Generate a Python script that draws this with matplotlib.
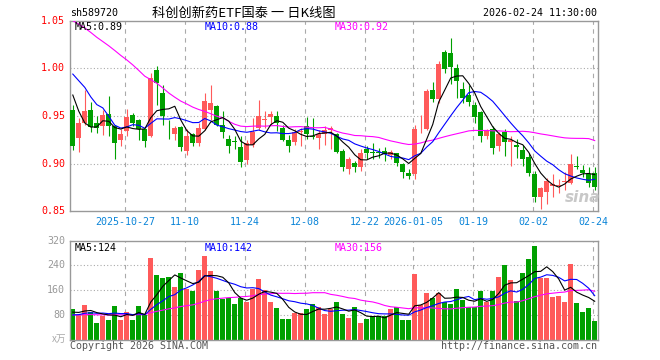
import numpy as np
import pandas as pd
import matplotlib
matplotlib.use('Agg')
import matplotlib.pyplot as plt

# K线数据
opens = [0.9566, 0.9267, 0.9427, 0.9566, 0.9427, 0.939, 0.9524, 0.940, 0.9247, 0.934,
         0.951, 0.946, 0.936, 0.9295, 0.998, 0.974, 0.940, 0.9316, 0.9385, 0.913,
         0.931, 0.922, 0.9365, 0.9566, 0.960, 0.941, 0.926, 0.924, 0.9174, 0.904,
         0.920, 0.9375, 0.946, 0.949, 0.9504, 0.9375, 0.925, 0.9226, 0.933, 0.940,
         0.929, 0.927, 0.9316, 0.935, 0.931, 0.913, 0.894, 0.9003, 0.896, 0.915,
         0.9118, 0.912, 0.913, 0.9087, 0.9115, 0.900, 0.8906, 0.889, 0.937, 0.9365,
         0.9774, 0.9677, 1.0174, 1.0156, 1.000, 0.978, 0.972, 0.962, 0.954, 0.9288,
         0.9368, 0.919, 0.933, 0.9226, 0.920, 0.914, 0.907, 0.889, 0.8646, 0.870,
         0.8767, 0.877, 0.8805, 0.8802, 0.8975, 0.8934, 0.8889, 0.8906]
highs = [0.962, 0.948, 0.977, 0.965, 0.950, 0.956, 0.971, 0.941, 0.936, 0.957,
         0.953, 0.947, 0.936, 0.995, 1.002, 0.983, 0.946, 0.940, 0.939, 0.936,
         0.932, 0.943, 0.974, 0.983, 0.962, 0.955, 0.930, 0.929, 0.929, 0.925,
         0.948, 0.967, 0.955, 0.955, 0.955, 0.941, 0.930, 0.936, 0.937, 0.9486,
         0.948, 0.9358, 0.940, 0.940, 0.932, 0.915, 0.907, 0.903, 0.9156, 0.919,
         0.922, 0.916, 0.917, 0.914, 0.9115, 0.901, 0.894, 0.941, 0.951, 0.978,
         0.986, 1.008, 1.019, 1.032, 1.005, 0.986, 0.9826, 0.965, 0.955, 0.9365,
         0.939, 0.933, 0.936, 0.9295, 0.926, 0.920, 0.9115, 0.8924, 0.875, 0.8854,
         0.889, 0.884, 0.891, 0.9097, 0.908, 0.899, 0.897, 0.896]
lows = [0.914, 0.912, 0.941, 0.933, 0.932, 0.930, 0.929, 0.905, 0.918, 0.929,
        0.940, 0.925, 0.917, 0.928, 0.962, 0.941, 0.926, 0.925, 0.913, 0.909,
        0.918, 0.919, 0.935, 0.946, 0.939, 0.927, 0.911, 0.915, 0.896, 0.8993,
        0.917, 0.935, 0.937, 0.941, 0.934, 0.9236, 0.912, 0.920, 0.918, 0.926,
        0.926, 0.915, 0.920, 0.915, 0.911, 0.8924, 0.889, 0.891, 0.892, 0.905,
        0.905, 0.906, 0.903, 0.905, 0.898, 0.8854, 0.8837, 0.8837, 0.932, 0.935,
        0.965, 0.964, 0.995, 0.984, 0.969, 0.9635, 0.961, 0.943, 0.9226, 0.926,
        0.9097, 0.913, 0.908, 0.8976, 0.906, 0.8976, 0.887, 0.8594, 0.8524, 0.8576,
        0.8646, 0.869, 0.872, 0.8785, 0.8948, 0.886, 0.876, 0.8726]
closes = [0.919, 0.9427, 0.9549, 0.9385, 0.9375, 0.9514, 0.940, 0.922, 0.9306, 0.9486,
          0.943, 0.936, 0.924, 0.9896, 0.985, 0.950, 0.939, 0.9375, 0.9177, 0.9295,
          0.922, 0.9375, 0.966, 0.964, 0.941, 0.933, 0.919, 0.923, 0.9017, 0.922,
          0.933, 0.950, 0.947, 0.9525, 0.9427, 0.925, 0.919, 0.933, 0.934, 0.9316,
          0.928, 0.9316, 0.9358, 0.9375, 0.912, 0.8965, 0.9045, 0.896, 0.9115, 0.911,
          0.9112, 0.9115, 0.9097, 0.912, 0.901, 0.891, 0.8872, 0.9365, 0.9375, 0.9767,
          0.9677, 1.005, 0.999, 1.001, 0.987, 0.969, 0.965, 0.949, 0.9295, 0.934,
          0.916, 0.9306, 0.9226, 0.9247, 0.917, 0.9045, 0.8906, 0.8646, 0.874, 0.882,
          0.8785, 0.8778, 0.881, 0.900, 0.8969, 0.8906, 0.880, 0.875]
# 成交量 (万)
volumes = [100, 80, 113, 90, 55, 78, 64, 110, 64, 91,
           64, 110, 80, 264, 209, 200, 203, 171, 214, 163,
           156, 225, 272, 223, 158, 131, 134, 116, 134, 123,
           165, 197, 161, 123, 103, 68, 68, 86, 86, 100,
           116, 107, 84, 100, 122, 84, 71, 105, 54, 67,
           77, 77, 77, 100, 107, 64, 64, 213, 113, 150,
           134, 150, 123, 116, 165, 129, 105, 107, 156, 123,
           158, 204, 240, 193, 126, 215, 261, 304, 199, 199,
           138, 142, 123, 245, 120, 91, 103, 62]
# 窗口之前的收盘价和成交量 (由左端均线位置估计, 用于均线)
prior_close = [1.06, 1.07, 1.08, 1.09, 1.085, 1.075, 1.07, 1.085, 1.09,
               1.10, 1.11, 1.105, 1.099, 1.10, 1.095, 1.099,
               1.07, 1.04, 1.02, 1.021,
               1.013, 1.0245, 1.0385, 1.018, 0.986, 1.028, 1.016, 0.960, 0.937]
prior_vol = [82, 78, 85, 80, 76, 83, 79, 81, 77, 84, 80, 78, 82, 79, 81, 76, 83, 80, 78, 79,
             70, 68, 74, 72, 71, 84, 90, 82, 89]

tick_idx = [9, 19, 29, 39, 49, 57, 67, 77, 87]
tick_labels = ['2025-10-27', '11-10', '11-24', '12-08', '12-22', '2026-01-05', '01-19', '02-02', '02-24']

UP = '#ff5a5a'
DOWN = '#00a000'
FRAME = '#999999'
MONO = 'DejaVu Sans Mono'
CJK = ['Noto Sans CJK SC', 'DejaVu Sans']

W, H = 660, 360
fig = plt.figure(figsize=(W / 100, H / 100), dpi=100)
fig.patch.set_facecolor('white')


def box(x0, y0, x1, y1):
    # 像素坐标 -> figure 坐标
    return [x0 / W, 1 - y1 / H, (x1 - x0) / W, (y1 - y0) / H]


def px(x, y):
    return x / W, 1 - y / H


ax1 = fig.add_axes(box(70.3, 20.7, 597.5, 211.3))
ax2 = fig.add_axes(box(70.3, 240.7, 597.5, 339.7))

n = len(closes)
x = np.arange(n)
o = np.array(opens)
c = np.array(closes)
up = c >= o
cols = [UP if u else DOWN for u in up]

full_c = pd.Series(prior_close + closes)
full_v = pd.Series(prior_vol + volumes)
k0 = len(prior_close)
ma_c = {m: full_c.rolling(m).mean().iloc[k0:].values for m in (5, 10, 30)}
ma_v = {m: full_v.rolling(m).mean().iloc[k0:].values for m in (5, 10, 30)}
ma_cols = {5: 'black', 10: '#0000ff', 30: '#ff00ff'}

bw = 5 / 6
for ax in (ax1, ax2):
    ax.set_xlim(-bw / 2, n - 1 + bw / 2 + 0.05)
    for t in tick_idx:
        ax.axvline(t - 0.25, color='#aaaaaa', lw=0.8, ls=(0, (4, 4)), zorder=0)
    for s in ax.spines.values():
        s.set_color(FRAME)
        s.set_linewidth(1.0)
    ax.set_xticks([])
    ax.set_yticks([])

# 价格
ax1.set_ylim(0.85, 1.05)
for g in (0.90, 0.95, 1.00):
    ax1.axhline(g, color='#aaaaaa', lw=0.8, ls=(0, (1, 2)), zorder=0)
ax1.vlines(x, lows, highs, colors=cols, lw=0.8, zorder=2)
body = np.maximum(np.abs(c - o), 0.0009)
ax1.bar(x, body, bottom=np.minimum(o, c), width=bw, color=cols, zorder=3, linewidth=0)
for m in (30, 10, 5):
    ax1.plot(x, ma_c[m], color=ma_cols[m], lw=0.8, zorder=4)

for v in (0.85, 0.90, 0.95, 1.00, 1.05):
    ax1.text(-0.01, v, f'{v:.2f}', transform=ax1.get_yaxis_transform(), ha='right', va='center',
             color='red', fontsize=7.2, family=MONO)

fig.text(*px(565, 197), 'sina', color='#c8c8c8', fontsize=11, fontweight='bold', style='italic',
         ha='left', va='center', zorder=1)

# 成交量
ax2.set_ylim(0, 320)
for g in (80, 160, 240):
    ax2.axhline(g, color='#aaaaaa', lw=0.8, ls=(0, (1, 2)), zorder=0)
ax2.bar(x, volumes, width=bw, color=cols, zorder=2, linewidth=0)
for m in (30, 10, 5):
    ax2.plot(x, ma_v[m], color=ma_cols[m], lw=0.8, zorder=4)
for v in (80, 160, 240, 320):
    ax2.text(-0.01, v, str(v), transform=ax2.get_yaxis_transform(), ha='right', va='center',
             color='#999999', fontsize=7.2, family=MONO)
fig.text(*px(66, 339), 'x万', ha='right', va='center', color='#aaaaaa', fontsize=7, family=CJK)

# 日期
for t, lab in zip(tick_idx, tick_labels):
    xf = ax1.transData.transform((t - 0.25, 0))[0] / W
    fig.text(xf, 1 - 222 / H, lab, ha='center', va='center', color='#0a84d8', fontsize=7.2, family=MONO)

# 图例
leg_x = [75, 205, 335]
for xx, m in zip(leg_x, (5, 10, 30)):
    fig.text(*px(xx, 27), f'MA{m}:{ma_c[m][-1]:.2f}', ha='left', va='center', color=ma_cols[m],
             fontsize=7.2, family=MONO)
    fig.text(*px(xx, 248), f'MA{m}:{ma_v[m][-1]:.0f}', ha='left', va='center', color=ma_cols[m],
             fontsize=7.2, family=MONO)

# 标题栏
fig.text(*px(70, 13), 'sh589720', ha='left', va='center', fontsize=7.2, family=MONO)
fig.text(*px(244, 13), '科创创新药ETF国泰 一 日K线图', ha='center', va='center', fontsize=9.5, family=CJK)
fig.text(*px(597, 13), '2026-02-24 11:30:00', ha='right', va='center', fontsize=7.2, family=MONO)
fig.text(*px(70, 346), 'Copyright 2026 SINA.COM', ha='left', va='center', color='#555555',
         fontsize=7.2, family=MONO)
fig.text(*px(597, 346), 'http://finance.sina.com.cn', ha='right', va='center', color='#555555',
         fontsize=7.2, family=MONO)

fig.savefig('out.png', dpi=100, facecolor='white')
